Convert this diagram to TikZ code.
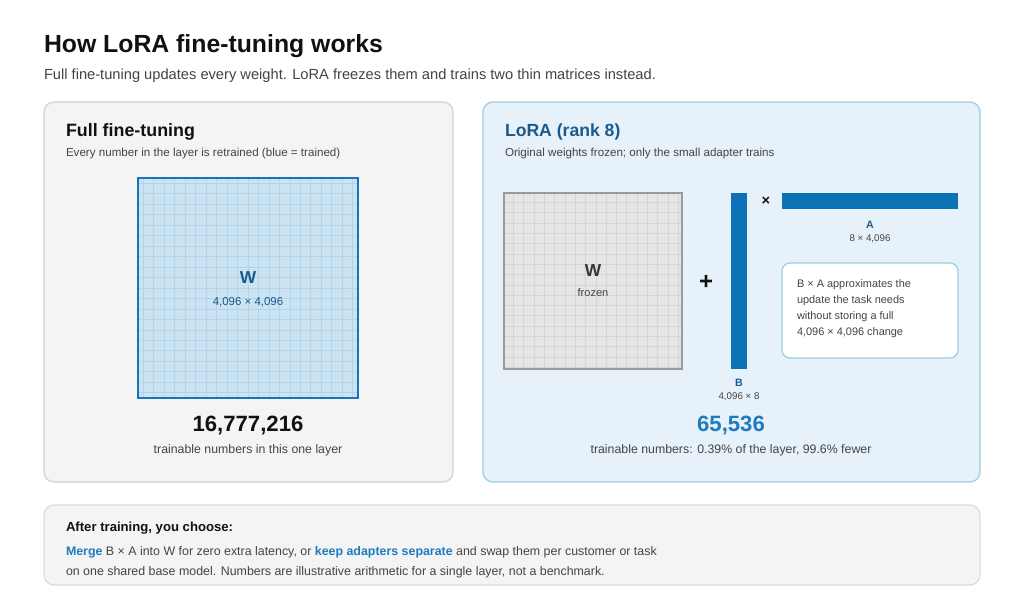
\documentclass[tikz,border=0pt]{standalone}
\usepackage{fontspec}
\setmainfont{Liberation Sans}
\usepackage{tikz}
\usetikzlibrary{positioning}

\definecolor{inkdark}{HTML}{111111}
\definecolor{inkgray}{HTML}{444444}
\definecolor{panelgray}{HTML}{F4F4F4}
\definecolor{panelline}{HTML}{D2D2D2}
\definecolor{panelblue}{HTML}{E7F1F9}
\definecolor{bluefrm}{HTML}{9DCBE8}
\definecolor{matfill}{HTML}{CCE4F2}
\definecolor{matline}{HTML}{1B75B5}
\definecolor{matgrid}{HTML}{B0D5EC}
\definecolor{frzfill}{HTML}{E5E5E5}
\definecolor{frzline}{HTML}{9A9A9A}
\definecolor{frzgrid}{HTML}{D4D4D4}
\definecolor{barblue}{HTML}{0B73B5}
\definecolor{deepblue}{HTML}{1A5A8C}
\definecolor{brightblue}{HTML}{1E7BBF}

\tikzset{
  txt/.style={inner sep=0pt, outer sep=0pt},
  panel/.style={rounded corners=7.5pt, line width=0.9pt},
}

\begin{document}
\begin{tikzpicture}[x=0.75pt,y=0.75pt,yscale=-1]
%page size 1024 x 614
\path[use as bounding box, fill=white] (0,0) rectangle (1024,614);

%Title
\node[txt, anchor=base west, text=inkdark, font=\fontsize{18.6}{22}\selectfont\bfseries] (title) at (44,52) {How LoRA fine-tuning works};
\node[txt, anchor=base west, text=inkgray, font=\fontsize{11}{13}\selectfont] (subtitle) at (44,79) {Full fine-tuning updates every weight. LoRA freezes them and trains two thin matrices instead.};

%Left panel: full fine-tuning
\draw[panel, fill=panelgray, draw=panelline] (44,102) rectangle (453,482);
\node[txt, anchor=base west, text=inkdark, font=\fontsize{13.4}{16}\selectfont\bfseries] (fullhead) at (66,136) {Full fine-tuning};
\node[txt, anchor=base west, text=inkgray, font=\fontsize{8.7}{10}\selectfont] (fullsub) at (66,156) {Every number in the layer is retrained (blue = trained)};

%trained matrix
\fill[matfill] (138,178) rectangle (358,398);
\foreach \k in {0,...,20} {
  \draw[matgrid, line width=0.5pt] ({143.2+10.476*\k},179) -- ({143.2+10.476*\k},397);
  \draw[matgrid, line width=0.5pt] (139,{183.2+10.476*\k}) -- (357,{183.2+10.476*\k});
}
\draw[matline, line width=1.6pt] (138,178) rectangle (358,398);
\node[txt, anchor=base, text=deepblue, font=\fontsize{13}{15}\selectfont\bfseries] (fullW) at (248,283) {W};
\node[txt, anchor=base, text=deepblue, font=\fontsize{8.6}{10}\selectfont] (fulldim) at (248,305) {4,096 × 4,096};

\node[txt, anchor=base, text=inkdark, font=\fontsize{16.6}{19}\selectfont\bfseries] (fullcount) at (248,431) {16,777,216};
\node[txt, anchor=base, text=inkgray, font=\fontsize{9.25}{11}\selectfont] (fullnote) at (248,453) {trainable numbers in this one layer};

%Right panel: LoRA
\draw[panel, fill=panelblue, draw=bluefrm] (483,102) rectangle (980,482);
\node[txt, anchor=base west, text=deepblue, font=\fontsize{13.2}{16}\selectfont\bfseries] (lorahead) at (505,136) {LoRA (rank 8)};
\node[txt, anchor=base west, text=inkgray, font=\fontsize{8.7}{10}\selectfont] (lorasub) at (505,156) {Original weights frozen; only the small adapter trains};

%frozen matrix
\fill[frzfill] (504,193) rectangle (682,369);
\foreach \k in {0,...,16} {
  \draw[frzgrid, line width=0.5pt] ({513.5+10.3*\k},194) -- ({513.5+10.3*\k},368);
  \draw[frzgrid, line width=0.5pt] (505,{202.5+10.3*\k}) -- (681,{202.5+10.3*\k});
}
\draw[frzline, line width=1.6pt] (504,193) rectangle (682,369);
\node[txt, anchor=base, text=inkdark!85, font=\fontsize{13}{15}\selectfont\bfseries] (frzW) at (593,276) {W};
\node[txt, anchor=base, text=inkgray, font=\fontsize{8.3}{10}\selectfont] (frzlab) at (593,296) {frozen};

\node[txt, text=inkdark, font=\fontsize{18}{20}\selectfont\bfseries] (plus) at (706,282) {+};

%adapter B and A
\fill[barblue] (731,193) rectangle (747,369);
\node[txt, anchor=base, text=deepblue, font=\fontsize{8}{10}\selectfont\bfseries] (Blab) at (739,386) {B};
\node[txt, anchor=base, text=inkgray, font=\fontsize{7.3}{9}\selectfont] (Bdim) at (739,399) {4,096 × 8};

\node[txt, text=inkdark, font=\fontsize{11}{12}\selectfont\bfseries] (times) at (766,201) {×};

\fill[barblue] (782,193) rectangle (958,209);
\node[txt, anchor=base, text=deepblue, font=\fontsize{8}{10}\selectfont\bfseries] (Alab) at (870,228) {A};
\node[txt, anchor=base, text=inkgray, font=\fontsize{7.3}{9}\selectfont] (Adim) at (870,241) {8 × 4,096};

%note
\draw[rounded corners=6pt, fill=white, draw=bluefrm, line width=0.9pt] (782,263) rectangle (958,358);
\foreach \line [count=\i] in {B × A approximates the, update the task needs, without storing a full, {4,096 × 4,096 change}} {
  \node[txt, anchor=base west, text=inkgray, font=\fontsize{8.2}{12}\selectfont] (note\i) at (797,{271+16*\i}) {\line};
}

\node[txt, anchor=base, text=brightblue, font=\fontsize{16.6}{19}\selectfont\bfseries] (loracount) at (731,431) {65,536};
\node[txt, anchor=base, text=inkgray, font=\fontsize{9.25}{11}\selectfont] (loranote) at (731,453) {trainable numbers: 0.39\% of the layer, 99.6\% fewer};

%Bottom panel
\draw[panel, fill=panelgray, draw=panelline!80] (44,505) rectangle (980,585);
\node[txt, anchor=base west, text=inkdark, font=\fontsize{9.85}{11}\selectfont\bfseries] (afterhead) at (66,531) {After training, you choose:};
\node[txt, anchor=base west, text=inkgray, font=\fontsize{9.3}{11}\selectfont] (afterone) at (66,555)
  {\textcolor{brightblue}{\bfseries Merge} B × A into W for zero extra latency, or \textcolor{brightblue}{\bfseries keep adapters separate} and swap them per customer or task};
\node[txt, anchor=base west, text=inkgray, font=\fontsize{9.3}{11}\selectfont] (aftertwo) at (66,575)
  {on one shared base model. Numbers are illustrative arithmetic for a single layer, not a benchmark.};
\end{tikzpicture}
\end{document}
